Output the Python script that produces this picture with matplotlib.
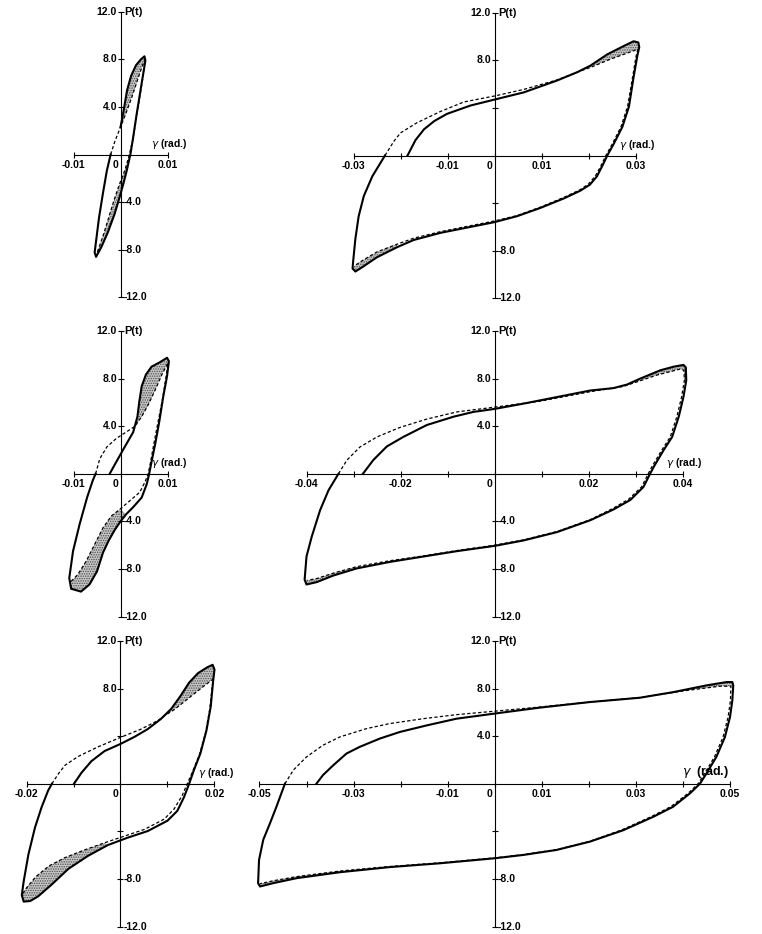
import numpy as np
import matplotlib.pyplot as plt

plt.rcParams['font.family'] = ['Liberation Sans', 'DejaVu Sans']
plt.rcParams['hatch.linewidth'] = 0.7

# load P (t) against rotation gamma (rad.) for six cyclic amplitudes
# solid = first trace, dashed = following trace, shaded between them at the peaks

p1_solid = np.array([
    (0.0, 2.3), (0.00035, 3.0), (0.0008, 4.0), (0.0014, 5.4), (0.00225, 6.6),
    (0.0033, 7.5), (0.00435, 8.0), (0.0051, 8.25), (0.0053, 7.9), (0.0049, 6.95),
    (0.0042, 5.25), (0.0034, 3.3), (0.0027, 1.45), (0.0021, 0.0), (0.00133, -1.35),
    (0.0006, -2.47), (-0.0002, -3.6), (-0.00126, -5.0), (-0.0027, -6.55),
    (-0.0041, -7.8), (-0.0052, -8.6), (-0.0055, -8.23), (-0.0051, -6.97),
    (-0.00456, -5.28), (-0.0037, -3.17), (-0.0029, -1.35), (-0.0021, 0.0)])
p1_dashed = np.array([
    (-0.0021, 0.0), (-0.0012, 1.1), (0.0, 2.3), (0.0012, 3.5), (0.0024, 4.8),
    (0.0034, 6.0), (0.0042, 6.95), (0.0048, 7.6), (0.0052, 8.0), (0.0049, 6.8),
    (0.0042, 5.1), (0.0034, 3.15), (0.0026, 1.2), (0.00175, -0.22), (0.0009, -1.35),
    (-0.0002, -2.47), (-0.0013, -3.74), (-0.0025, -5.28), (-0.0037, -6.83),
    (-0.0047, -7.95), (-0.0052, -8.45)])

p2_solid = np.array([
    (-0.0185, 0.0), (-0.0168, 1.3), (-0.015, 2.2), (-0.0128, 2.9), (-0.0101, 3.5),
    (-0.0051, 4.2), (0.0, 4.7), (0.0062, 5.3), (0.0133, 6.3), (0.0176, 7.0),
    (0.0204, 7.55), (0.024, 8.5), (0.0275, 9.2), (0.0296, 9.6), (0.0306, 9.5),
    (0.0308, 9.1), (0.0304, 8.4), (0.0296, 6.6), (0.0286, 4.1), (0.0272, 2.4),
    (0.0254, 1.0), (0.024, 0.0), (0.0229, -0.9), (0.0218, -1.75), (0.0203, -2.45),
    (0.0183, -2.95), (0.0148, -3.6), (0.0098, -4.4), (0.0048, -5.1), (0.0, -5.6),
    (-0.0051, -6.0), (-0.0115, -6.5), (-0.0172, -7.1), (-0.0207, -7.7),
    (-0.025, -8.55), (-0.0282, -9.4), (-0.0296, -9.75), (-0.0302, -9.5),
    (-0.0301, -9.0), (-0.0296, -7.0), (-0.0289, -5.1), (-0.0278, -3.4),
    (-0.026, -1.75), (-0.0233, 0.0)])
p2_dashed = np.array([
    (-0.0233, 0.0), (-0.0214, 1.2), (-0.02, 1.9), (-0.0165, 2.75), (-0.0115, 3.7),
    (-0.0065, 4.5), (0.0, 5.0), (0.0062, 5.55), (0.0133, 6.35), (0.0176, 7.0),
    (0.0204, 7.4), (0.0247, 8.1), (0.0275, 8.5), (0.0296, 8.8), (0.0305, 8.95),
    (0.0301, 8.3), (0.0293, 6.4), (0.0283, 4.1), (0.0269, 2.4), (0.0251, 1.0),
    (0.0237, 0.0), (0.0226, -0.9), (0.0215, -1.7), (0.02, -2.4), (0.0181, -2.9),
    (0.0146, -3.55), (0.0097, -4.35), (0.0048, -5.05), (0.0, -5.5), (-0.0051, -5.9),
    (-0.0115, -6.4), (-0.0172, -6.95), (-0.0207, -7.45), (-0.025, -8.1),
    (-0.0282, -8.85), (-0.0299, -9.3)])

p3_solid = np.array([
    (-0.0023, 0.0), (-0.0009, 1.0), (0.0009, 2.26), (0.0027, 3.5), (0.0036, 4.8),
    (0.004, 6.07), (0.0045, 7.34), (0.0054, 8.33), (0.0066, 9.0), (0.0084, 9.38),
    (0.0099, 9.75), (0.0103, 9.46), (0.0099, 8.2), (0.0091, 6.5), (0.0083, 4.5),
    (0.0074, 2.54), (0.0066, 1.0), (0.0061, 0.0), (0.0056, -0.85), (0.0045, -2.0),
    (0.0027, -2.8), (0.0012, -3.4), (0.0, -4.0), (-0.0012, -4.7), (-0.0025, -5.6),
    (-0.0037, -6.6), (-0.005, -8.2), (-0.0066, -9.3), (-0.0084, -9.9),
    (-0.0105, -9.66), (-0.0109, -8.76), (-0.0101, -6.5), (-0.0087, -4.24),
    (-0.0071, -1.98), (-0.0059, -0.56), (-0.0053, 0.0)])
p3_dashed = np.array([
    (-0.0053, 0.0), (-0.0044, 1.27), (-0.0029, 2.26), (-0.0009, 2.97), (0.0013, 3.53),
    (0.0031, 4.0), (0.0045, 4.8), (0.0059, 5.8), (0.0074, 7.06), (0.0088, 8.33),
    (0.0099, 9.18), (0.0101, 9.3), (0.0096, 7.9), (0.0089, 6.2), (0.008, 4.38),
    (0.0071, 2.54), (0.0064, 1.0), (0.0059, 0.0), (0.0052, -0.7), (0.0041, -1.55),
    (0.002, -2.26), (-0.0001, -2.97), (-0.0019, -3.53), (-0.0037, -4.52),
    (-0.0055, -5.93), (-0.0073, -7.34), (-0.0091, -8.47), (-0.0105, -9.04)])

p4_solid = np.array([
    (-0.028, 0.0), (-0.0258, 1.15), (-0.0229, 2.3), (-0.0194, 3.1), (-0.0144, 4.1),
    (-0.0087, 4.8), (-0.0045, 5.2), (0.0, 5.45), (0.0062, 5.9), (0.0133, 6.45),
    (0.0204, 7.0), (0.0253, 7.2), (0.0282, 7.5), (0.031, 8.0), (0.0353, 8.7),
    (0.0381, 9.0), (0.0402, 9.15), (0.0407, 8.95), (0.0408, 7.85), (0.0402, 6.45),
    (0.0392, 4.8), (0.0378, 3.1), (0.036, 2.0), (0.0339, 0.6), (0.0331, 0.0),
    (0.0317, -1.1), (0.0289, -2.2), (0.0253, -3.0), (0.0204, -3.9), (0.0133, -4.9),
    (0.0062, -5.6), (0.0, -6.06), (-0.008, -6.5), (-0.0151, -6.95), (-0.0222, -7.4),
    (-0.0293, -7.95), (-0.0343, -8.55), (-0.0378, -9.1), (-0.04, -9.3),
    (-0.0404, -8.9), (-0.04, -6.95), (-0.0389, -5.3), (-0.0371, -3.05),
    (-0.0353, -1.37), (-0.0332, 0.0)])
p4_dashed = np.array([
    (-0.0332, 0.0), (-0.0314, 1.15), (-0.0286, 2.26), (-0.025, 3.1), (-0.0201, 3.9),
    (-0.0144, 4.6), (-0.008, 5.2), (0.0, 5.6), (0.0097, 6.1), (0.0204, 6.9),
    (0.0275, 7.35), (0.0346, 8.3), (0.0395, 8.8), (0.0403, 8.7), (0.0404, 7.85),
    (0.0398, 6.45), (0.0388, 4.8), (0.0374, 3.1), (0.0356, 2.0), (0.0335, 0.6),
    (0.0327, 0.0), (0.0313, -1.1), (0.0285, -2.15), (0.025, -2.95), (0.0204, -3.85),
    (0.0133, -4.85), (0.0062, -5.55), (0.0, -6.0), (-0.008, -6.45), (-0.0151, -6.9),
    (-0.0222, -7.3), (-0.0293, -7.8), (-0.0343, -8.35), (-0.0378, -8.8),
    (-0.0398, -8.95)])

p5_solid = np.array([
    (-0.0099, 0.0), (-0.0083, 0.93), (-0.0062, 1.9), (-0.0034, 2.75), (0.0, 3.35),
    (0.003, 3.95), (0.0058, 4.6), (0.0086, 5.45), (0.0108, 6.3), (0.0128, 7.4),
    (0.0146, 8.5), (0.0165, 9.3), (0.0185, 9.8), (0.0196, 10.0), (0.02, 9.6),
    (0.0197, 8.6), (0.0192, 6.5), (0.0183, 4.5), (0.017, 2.55), (0.0156, 1.13),
    (0.0146, 0.0), (0.0135, -1.13), (0.0121, -2.27), (0.01, -3.1), (0.0058, -3.97),
    (0.0015, -4.53), (-0.0027, -5.15), (-0.0069, -6.05), (-0.0111, -7.15),
    (-0.0146, -8.45), (-0.0175, -9.45), (-0.0192, -9.85), (-0.0206, -9.9),
    (-0.021, -9.35), (-0.0206, -8.2), (-0.0196, -5.95), (-0.0182, -3.68),
    (-0.0168, -1.98), (-0.0154, -0.57), (-0.0146, 0.0)])
p5_dashed = np.array([
    (-0.0146, 0.0), (-0.0132, 0.85), (-0.0118, 1.56), (-0.009, 2.3), (-0.0048, 3.1),
    (0.0, 3.9), (0.0044, 4.6), (0.0079, 5.3), (0.0093, 5.7), (0.0115, 6.25),
    (0.0142, 7.1), (0.0177, 8.2), (0.0197, 8.8), (0.0195, 8.1), (0.019, 6.3),
    (0.0181, 4.3), (0.0168, 2.45), (0.0153, 1.0), (0.0142, 0.0), (0.0131, -1.0),
    (0.0114, -2.12), (0.0093, -2.97), (0.0051, -3.83), (0.0008, -4.4),
    (-0.0034, -4.96), (-0.0076, -5.55), (-0.0118, -6.2), (-0.0152, -6.9),
    (-0.018, -7.8), (-0.0201, -8.8), (-0.0209, -9.3)])

p6_solid = np.array([
    (-0.0379, 0.0), (-0.0365, 0.73), (-0.0343, 1.56), (-0.0315, 2.54), (-0.0287, 3.1),
    (-0.0244, 3.8), (-0.0201, 4.36), (-0.0145, 4.9), (-0.0081, 5.47), (0.0, 5.9),
    (0.0096, 6.4), (0.0203, 6.87), (0.0309, 7.23), (0.038, 7.7), (0.0451, 8.27),
    (0.0494, 8.55), (0.0506, 8.55), (0.0508, 8.27), (0.0506, 7.0), (0.0501, 5.6),
    (0.049, 3.9), (0.0472, 2.26), (0.0451, 0.87), (0.0437, 0.0), (0.0416, -0.8),
    (0.038, -1.93), (0.0338, -2.77), (0.0274, -3.9), (0.0203, -4.86), (0.0132, -5.56),
    (0.0061, -5.98), (0.0, -6.26), (-0.0116, -6.68), (-0.0223, -7.0),
    (-0.0329, -7.43), (-0.0421, -7.93), (-0.0471, -8.35), (-0.0499, -8.63),
    (-0.0503, -8.35), (-0.0501, -6.4), (-0.0492, -4.7), (-0.0478, -3.35),
    (-0.0464, -1.93), (-0.0446, 0.0)])
p6_dashed = np.array([
    (-0.0446, 0.0), (-0.0428, 1.15), (-0.04, 2.26), (-0.0365, 3.24), (-0.0329, 3.94),
    (-0.0272, 4.64), (-0.0223, 5.06), (-0.0152, 5.47), (-0.0081, 5.81), (0.0, 6.1),
    (0.0096, 6.45), (0.0203, 6.87), (0.0309, 7.25), (0.0401, 7.8), (0.0479, 8.2),
    (0.0503, 8.2), (0.0502, 7.0), (0.0497, 5.6), (0.0486, 3.9), (0.0468, 2.26),
    (0.0447, 0.87), (0.0433, 0.0), (0.0412, -0.8), (0.0376, -1.9), (0.0334, -2.75),
    (0.0271, -3.87), (0.0203, -4.83), (0.0132, -5.53), (0.0061, -5.95), (0.0, -6.23),
    (-0.0116, -6.64), (-0.0223, -6.95), (-0.0329, -7.33), (-0.0421, -7.8),
    (-0.0471, -8.15), (-0.0499, -8.4)])

# labelled tick values of each panel
p1_xlabels = [-0.01, 0, 0.01]
p2_xlabels = [-0.03, -0.01, 0, 0.01, 0.03]
p3_xlabels = [-0.01, 0, 0.01]
p4_xlabels = [-0.04, -0.02, 0, 0.02, 0.04]
p5_xlabels = [-0.02, 0, 0.02]
p6_xlabels = [-0.05, -0.03, -0.01, 0, 0.01, 0.03, 0.05]

p1_ylabels = [12, 8, 4, -4, -8, -12]
p2_ylabels = [12, 8, -8, -12]
p3_ylabels = [12, 8, 4, -4, -8, -12]
p4_ylabels = [12, 8, 4, -4, -8, -12]
p5_ylabels = [12, 8, -8, -12]
p6_ylabels = [12, 8, 4, -8, -12]

W, H = 762, 934
SX = 4700.0   # px per rad
SY = 11.9     # px per t

fig = plt.figure(figsize=(W / 100, H / 100), dpi=100)
fig.patch.set_facecolor('white')


def branch(arr, x0, upper):
    ir = int(np.argmax(arr[:, 0]))
    il = int(np.argmin(arr[:, 0]))
    if upper:
        i0 = next(i for i in range(ir + 1) if arr[i, 0] >= x0)
        return arr[i0:ir + 1]
    i0 = next(i for i in range(ir, len(arr)) if arr[i, 0] <= x0)
    return arr[i0:il + 1]


def panel(origin, half, solid, dashed, xlabels, ylabels, shade_from,
          gdx=12, glabel=r'$\gamma$ (rad.)', gsize=7.5):
    ox, oy = origin
    xlim = (-half - 0.004, half + 0.004)
    ylim = (-13.5, 13.5)
    left = ox + xlim[0] * SX
    width = (xlim[1] - xlim[0]) * SX
    top = oy - ylim[1] * SY
    height = (ylim[1] - ylim[0]) * SY
    ax = fig.add_axes([left / W, 1 - (top + height) / H, width / W, height / H])
    ax.set_xlim(xlim)
    ax.set_ylim(ylim)
    ax.patch.set_alpha(0)
    for s in ['top', 'right']:
        ax.spines[s].set_visible(False)
    ax.spines['left'].set_position(('data', 0))
    ax.spines['bottom'].set_position(('data', 0))
    ax.spines['left'].set_bounds(-12, 12)
    ax.spines['bottom'].set_bounds(-half, half)
    for s in ['left', 'bottom']:
        ax.spines[s].set_linewidth(0.8)
    n = int(round(2 * half / 0.01))
    ax.set_xticks(np.round(np.linspace(-half, half, n + 1), 3))
    ax.set_yticks([-12, -8, -4, 4, 8, 12])
    ax.set_xticklabels([])
    ax.set_yticklabels([])
    ax.tick_params(direction='inout', length=5, width=0.8)

    # stippled difference near both peaks
    lo_up, lo_dn = shade_from
    for x0, up in [(lo_up, True), (lo_dn, False)]:
        a = branch(solid, x0, up)
        b = branch(dashed, x0, up)
        poly = np.vstack([a, b[::-1]])
        ax.fill(poly[:, 0], poly[:, 1], facecolor='0.78', edgecolor='0.3',
                hatch='.......', linewidth=0, zorder=1, clip_on=False)

    ax.plot(dashed[:, 0], dashed[:, 1], color='k', lw=0.9, dashes=(2.6, 1.8),
            zorder=2, clip_on=False)
    ax.plot(solid[:, 0], solid[:, 1], color='k', lw=1.5, zorder=3,
            clip_on=False, solid_joinstyle='round')

    fs = 7.5
    for v in xlabels:
        txt = '0' if v == 0 else f'{v:.2f}'
        dx = -3.5 if v == 0 else 0
        ax.annotate(txt, xy=(v, 0), xytext=(dx, -4), textcoords='offset points',
                    ha='center', va='top', fontsize=fs, fontweight='bold')
    for v in ylabels:
        if v > 0:
            ax.annotate(f'{v:.1f}', xy=(0, v), xytext=(-2.5, 0),
                        textcoords='offset points', ha='right', va='center',
                        fontsize=fs, fontweight='bold')
        else:
            ax.annotate(f'{v:.1f}', xy=(0, v), xytext=(2.5, 0),
                        textcoords='offset points', ha='left', va='center',
                        fontsize=fs, fontweight='bold')
    ax.annotate('P(t)', xy=(0, 12), xytext=(3, 0), textcoords='offset points',
                ha='left', va='center', fontsize=fs + 0.5, fontweight='bold')
    ax.annotate(glabel, xy=(half, 0), xytext=(-gdx, 2.5),
                textcoords='offset points', ha='left', va='bottom',
                fontsize=gsize, fontweight='bold')
    return ax


panel((120.5, 154.5), 0.01, p1_solid, p1_dashed, p1_xlabels, p1_ylabels, (0.0, 0.0021))
panel((494.5, 155.5), 0.03, p2_solid, p2_dashed, p2_xlabels, p2_ylabels, (0.0176, -0.0207))
panel((120.5, 473.8), 0.01, p3_solid, p3_dashed, p3_xlabels, p3_ylabels, (0.0027, 0.0012))
panel((494.5, 473.8), 0.04, p4_solid, p4_dashed, p4_xlabels, p4_ylabels, (0.027, -0.029))
panel((120.5, 783.8), 0.02, p5_solid, p5_dashed, p5_xlabels, p5_ylabels, (0.0086, -0.0027))
panel((494.5, 783.8), 0.05, p6_solid, p6_dashed, p6_xlabels, p6_ylabels, (0.038, -0.0329),
      gdx=34, glabel=r'$\gamma$  (rad.)', gsize=9)

fig.savefig('out.png', dpi=100)
